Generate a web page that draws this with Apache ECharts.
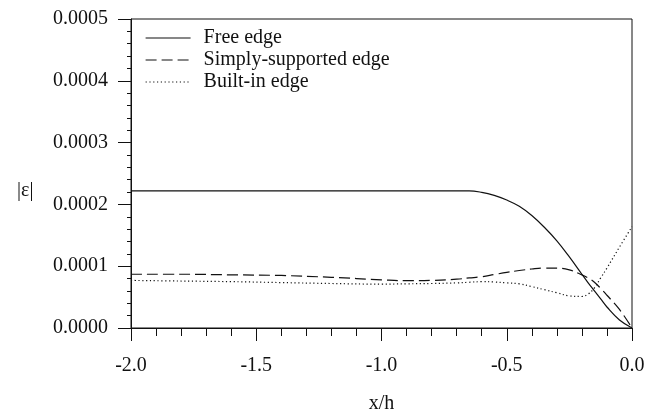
<!DOCTYPE html>
<html>
<head>
<meta charset="utf-8">
<script src="https://cdn.jsdelivr.net/npm/echarts@6/dist/echarts.min.js"></script>
<style>
  html, body { margin: 0; padding: 0; background: #fff; }
  #chart { width: 657px; height: 412px; }
</style>
</head>
<body>
<div id="chart"></div>
<script>
const xs = [-2.0, -1.8, -1.6, -1.4, -1.2, -1.0, -0.9, -0.8, -0.7, -0.65, -0.6, -0.55, -0.5,
  -0.45, -0.4, -0.35, -0.3, -0.25, -0.2, -0.175, -0.15, -0.125, -0.1, -0.05, 0.0];
const freeEdge = [0.000222, 0.000222, 0.000222, 0.000222, 0.000222, 0.000222, 0.000222, 0.000222,
  0.000222, 0.000222, 0.0002195, 0.0002145, 0.000207, 0.000197, 0.000182, 0.000163, 0.000141,
  0.000115, 0.000087, 0.000073, 0.00006, 0.000047, 0.000034, 0.000013, 0.0];
const simplyEdge = [0.000087, 0.000087, 0.000086, 0.000085, 0.000082, 0.000078, 0.0000765,
  0.000077, 0.000079, 0.000081, 0.000083, 0.0000865, 0.00009, 0.000093, 0.0000955, 0.000097,
  0.000097, 0.000094, 0.000086, 0.000081, 0.000074, 0.000064, 0.000053, 0.00003, 0.0];
const builtInEdge = [0.000077, 0.000076, 0.000075, 0.0000735, 0.000072, 0.000071, 0.0000715,
  0.000072, 0.000073, 0.000074, 0.000075, 0.0000745, 0.000073, 0.0000715, 0.000067, 0.000062,
  0.000057, 0.000052, 0.000051, 0.000055, 0.000065, 0.000081, 0.000097, 0.000131, 0.000164];
const xTicks = { min: -2.0, max: 0.0, step: 0.5 };
const yTicks = { min: 0, max: 0.0005, step: 0.0001 };

const pairs = ys => xs.map((x, i) => [x, ys[i]]);

const font = "Liberation Serif";
const ink = "#111";

const myChart = echarts.init(document.getElementById("chart"));

const option = {
  animation: false,
  backgroundColor: "#fff",
  textStyle: { fontFamily: font, color: ink },
  grid: {
    left: 131, right: 25, top: 19, bottom: 84,
    outerBoundsMode: "none",
    show: true, borderColor: ink, borderWidth: 1
  },
  legend: {
    left: 140, top: 23, orient: "vertical",
    itemWidth: 45, itemHeight: 20, itemGap: 2,
    itemStyle: { opacity: 0 },
    lineStyle: { width: 1.2, color: ink },
    textStyle: { fontFamily: font, fontSize: 20, color: ink, padding: [0, 0, 0, 8] },
    data: ["Free edge", "Simply-supported edge", "Built-in edge"]
  },
  xAxis: {
    type: "value",
    min: xTicks.min, max: xTicks.max, interval: xTicks.step,
    name: "x/h", nameLocation: "middle", nameGap: 66,
    nameTextStyle: { fontFamily: font, fontSize: 20, color: ink },
    axisLine: { onZero: false, lineStyle: { color: ink, width: 1 } },
    axisTick: { length: 13, lineStyle: { color: ink } },
    minorTick: { show: true, splitNumber: 5, length: 8, lineStyle: { color: ink } },
    splitLine: { show: false },
    axisLabel: { fontFamily: font, fontSize: 20, color: ink, margin: 28,
      formatter: v => v.toFixed(1) }
  },
  yAxis: {
    type: "value",
    min: yTicks.min, max: yTicks.max, interval: yTicks.step,
    axisLine: { show: true, onZero: false, lineStyle: { color: ink, width: 1 } },
    axisTick: { show: true, length: 13, lineStyle: { color: ink } },
    minorTick: { show: true, splitNumber: 5, length: 4, lineStyle: { color: ink } },
    splitLine: { show: false },
    axisLabel: { fontFamily: font, fontSize: 20, color: ink, margin: 23,
      formatter: v => v.toFixed(4) }
  },
  graphic: [{
    type: "text", left: 17, top: 181,
    style: { text: "|ε|", font: "20px 'Liberation Serif'", fill: ink }
  }],
  series: [
    {
      name: "Free edge", type: "line", smooth: 0.4, symbol: "none",
      lineStyle: { color: ink, width: 1.2, type: "solid" },
      itemStyle: { color: ink },
      data: pairs(freeEdge)
    },
    {
      name: "Simply-supported edge", type: "line", smooth: 0.4, symbol: "none",
      lineStyle: { color: ink, width: 1.2, type: [11, 5] },
      itemStyle: { color: ink },
      data: pairs(simplyEdge)
    },
    {
      name: "Built-in edge", type: "line", smooth: 0.4, symbol: "none",
      lineStyle: { color: ink, width: 1.2, type: [1.2, 2.6] },
      itemStyle: { color: ink },
      data: pairs(builtInEdge)
    }
  ]
};

option && myChart.setOption(option);
</script>
</body>
</html>
